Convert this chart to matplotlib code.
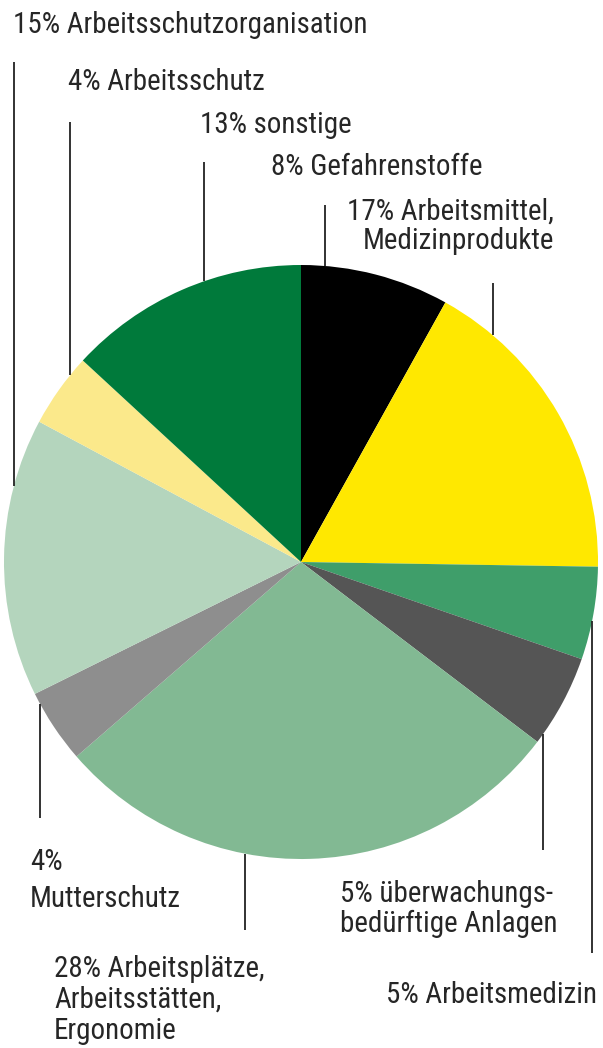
import matplotlib
matplotlib.use("Agg")
import matplotlib.pyplot as plt
from matplotlib import font_manager as fm
import numpy as np

# slices, clockwise from 12 o'clock
labels = ['Gefahrenstoffe', 'Arbeitsmittel, Medizinprodukte', 'Arbeitsmedizin',
          'überwachungsbedürftige Anlagen', 'Arbeitsplätze, Arbeitsstätten, Ergonomie',
          'Mutterschutz', 'Arbeitsschutzorganisation', 'Arbeitsschutz', 'sonstige']
values = [8, 17, 5, 5, 28, 4, 15, 4, 13]
colors = ['#000000', '#ffe800', '#3f9e6a', '#555555', '#82b993',
          '#8e8e8e', '#b4d5bd', '#fbe98b', '#007a3b']

# label lines shown for each slice
label_lines = [['8% Gefahrenstoffe'],
               ['17% Arbeitsmittel,', 'Medizinprodukte'],
               ['5% Arbeitsmedizin'],
               ['5% überwachungs-', 'bedürftige Anlagen'],
               ['28% Arbeitsplätze,', 'Arbeitsstätten,', 'Ergonomie'],
               ['4%', 'Mutterschutz'],
               ['15% Arbeitsschutzorganisation'],
               ['4% Arbeitsschutz'],
               ['13% sonstige']]

W, H = 603, 1048
cx, cy, r = 301, H - 562, 297

# text anchor x, alignment and baselines (pixels from top)
text_x = [271, 554, 597, 340, 54, 30, 13, 68, 200]
text_ha = ['left', 'right', 'right', 'left', 'left', 'left', 'left', 'left', 'left']
text_base = [[175], [220, 249], [1003], [902, 932], [977, 1008, 1039],
             [870, 907], [33], [90], [133]]
# leader lines: x and far end (pixels from top); near end sits on the pie rim
leader_x = [325, 493, 592, 543, 245, 40, 14, 70, 204]
leader_end = [205, 283, 953, 850, 930, 818, 62, 122, 162]


def pick_font():
    prefs = ['Liberation Sans Narrow', 'Arial Narrow', 'Roboto Condensed',
             'Open Sans Condensed', 'Noto Sans Condensed', 'DejaVu Sans Condensed']
    fonts = fm.fontManager.ttflist
    for name in prefs:
        for f in fonts:
            if f.name == name and f.style == 'normal' and f.weight in (400, 'normal', 'regular'):
                return f.fname
    # any regular condensed / narrow sans
    for f in fonts:
        low = (f.name + ' ' + f.fname).lower()
        if ('condensed' in low or 'narrow' in low or f.stretch in ('condensed', 'semi-condensed')) \
                and 'serif' not in low and 'mono' not in low and 'extra' not in low \
                and f.style == 'normal' and f.weight in (400, 'normal', 'regular'):
            return f.fname
    return None


fig = plt.figure(figsize=(W / 100, H / 100), dpi=100)
ax = fig.add_axes([0, 0, 1, 1])
ax.pie(values, colors=colors, startangle=90, counterclock=False,
       center=(cx, cy), radius=r, wedgeprops=dict(linewidth=0))
ax.set_xlim(0, W)
ax.set_ylim(0, H)
ax.set_aspect('equal')
ax.axis('off')

fpath = pick_font()
if fpath:
    fp = fm.FontProperties(fname=fpath)
else:
    fp = fm.FontProperties(family='DejaVu Sans')

# size the font so a few labels come out about as wide as in the picture
targets = {'15% Arbeitsschutzorganisation': 340, '28% Arbeitsplätze,': 206,
           '5% Arbeitsmedizin': 205, '17% Arbeitsmittel,': 203}
renderer = fig.canvas.get_renderer()
ratios = []
for s, w in targets.items():
    t = ax.text(0, 0, s, fontproperties=fp, fontsize=20)
    ratios.append(w / t.get_window_extent(renderer).width)
    t.remove()
fsize = 20 * np.mean(ratios) * 1.03

for i in range(len(values)):
    x = leader_x[i]
    y_far = H - leader_end[i]
    dy = np.sqrt(max(r ** 2 - (x - cx) ** 2, 0))
    y_rim = cy + dy if y_far > cy else cy - dy
    ax.plot([x, x], [y_far, y_rim], color='#222222', lw=1.3, solid_capstyle='butt')

    for line, base in zip(label_lines[i], text_base[i]):
        ax.text(text_x[i], H - base, line, ha=text_ha[i], va='baseline',
                fontproperties=fp, fontsize=fsize, color='#262626')

fig.savefig('out.png', dpi=100)
